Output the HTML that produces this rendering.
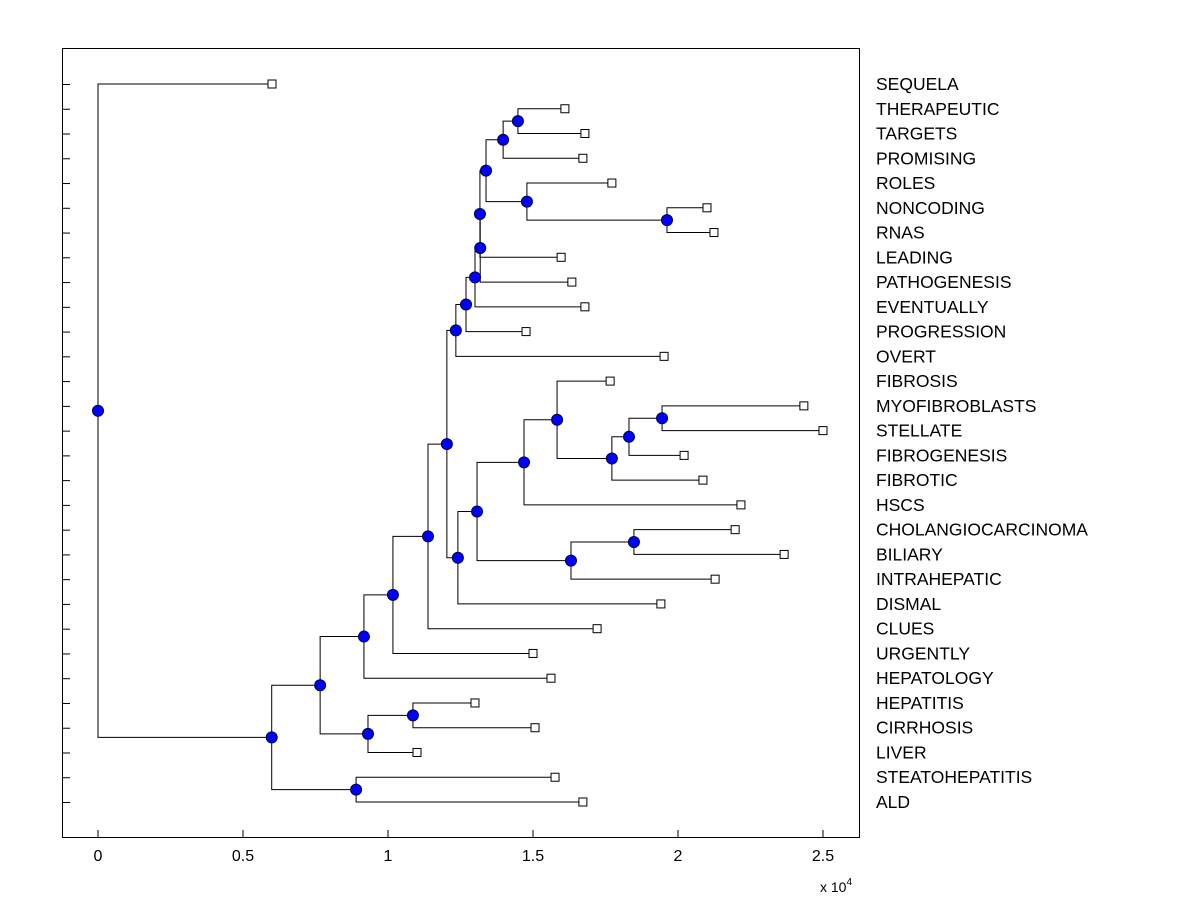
<!DOCTYPE html>
<html><head><meta charset="utf-8"><style>
body{margin:0;background:#fff}
svg text{font-family:"Liberation Sans",Arial,sans-serif;font-size:16px;fill:#000}
</style></head><body>
<svg id="chart" width="1200" height="900" xmlns="http://www.w3.org/2000/svg">
<rect width="1200" height="900" fill="#fff"/>
<rect x="62.5" y="48.5" width="797" height="789" fill="#fff" stroke="#000" stroke-width="1"/>
<g id="g"></g>
<text x="820" y="892" style="font-size:14px">x 10<tspan dy="-7" style="font-size:10px">4</tspan></text>
</svg>
<script>
const labels=["SEQUELA","THERAPEUTIC","TARGETS","PROMISING","ROLES","NONCODING","RNAS","LEADING","PATHOGENESIS","EVENTUALLY","PROGRESSION","OVERT","FIBROSIS","MYOFIBROBLASTS","STELLATE","FIBROGENESIS","FIBROTIC","HSCS","CHOLANGIOCARCINOMA","BILIARY","INTRAHEPATIC","DISMAL","CLUES","URGENTLY","HEPATOLOGY","HEPATITIS","CIRRHOSIS","LIVER","STEATOHEPATITIS","ALD"];
const leafDist=[6000,16100,16790,16720,17720,21000,21240,15970,16340,16790,14760,19520,17660,24340,25000,20210,20860,22170,21970,23660,21280,19410,17210,15000,15620,13000,15070,11000,15760,16720];
// merges: [childA, childB, height]; leaves "L#", internal "N#"
const merges=[
["L1","L2",14480],["N0","L3",13970],["L5","L6",19620],["L4","N2",14790],["N1","N3",13380],
["N4","L7",13170],["N5","L8",13180],["N6","L9",13000],["N7","L10",12690],["N8","L11",12340],
["L13","L14",19450],["N10","L15",18310],["N11","L16",17720],["L12","N12",15830],["N13","L17",14690],
["L18","L19",18480],["N15","L20",16310],["N14","N16",13070],["N17","L21",12410],["N9","N18",12030],
["N19","L22",11380],["N20","L23",10170],["N21","L24",9170],["L25","L26",10860],["N23","L27",9310],
["N22","N24",7660],["L28","L29",8900],["N25","N26",5990],["L0","N27",0]];
const xTicks=[0,0.5,1,1.5,2,2.5];
const X=v=>98+v/10000*290;
const Y=i=>84+i*(802-84)/29;
const g=document.getElementById('g');
const NS="http://www.w3.org/2000/svg";
function mk(t,a){const e=document.createElementNS(NS,t);for(const k in a)e.setAttribute(k,a[k]);g.appendChild(e);return e;}
xTicks.forEach(t=>{
 const l=mk('line',{x1:X(t*10000),x2:X(t*10000),y1:837.5,y2:830,stroke:'#000'});
 
 
 const tx=mk('text',{x:X(t*10000),y:861,'text-anchor':'middle'});tx.textContent=String(t);
 
 
});
labels.forEach((s,i)=>{
 const l=mk('line',{x1:62.5,x2:70,y1:Y(i)+0.5,y2:Y(i)+0.5,stroke:'#000'});
 
 
 const tx=mk('text',{x:876,y:Y(i)+6,style:'font-size:17.5px'});tx.textContent=s;
 
 
});
const pos={};
labels.forEach((s,i)=>pos['L'+i]={x:X(leafDist[i]),y:Y(i)});
const nodes=[];
merges.forEach((m,k)=>{
 const a=pos[m[0]],b=pos[m[1]],px=X(m[2]),py=(a.y+b.y)/2;
 pos['N'+k]={x:px,y:py};
 const p=mk('path',{d:`M${a.x},${a.y}H${px}V${b.y}H${b.x}`,fill:'none',stroke:'#000','stroke-width':1});
 
 
 nodes.push([px,py]);
});
labels.forEach((s,i)=>{
 const p=pos['L'+i];
 const r=mk('rect',{x:p.x-4,y:p.y-4,width:8,height:8,fill:'#fff',stroke:'#000'});
 
 
});
nodes.forEach(n=>{
 const c=mk('circle',{cx:n[0],cy:n[1],r:5.5,fill:'#0000ff',stroke:'#000040'});
 
 
});
</script>
</body></html>
